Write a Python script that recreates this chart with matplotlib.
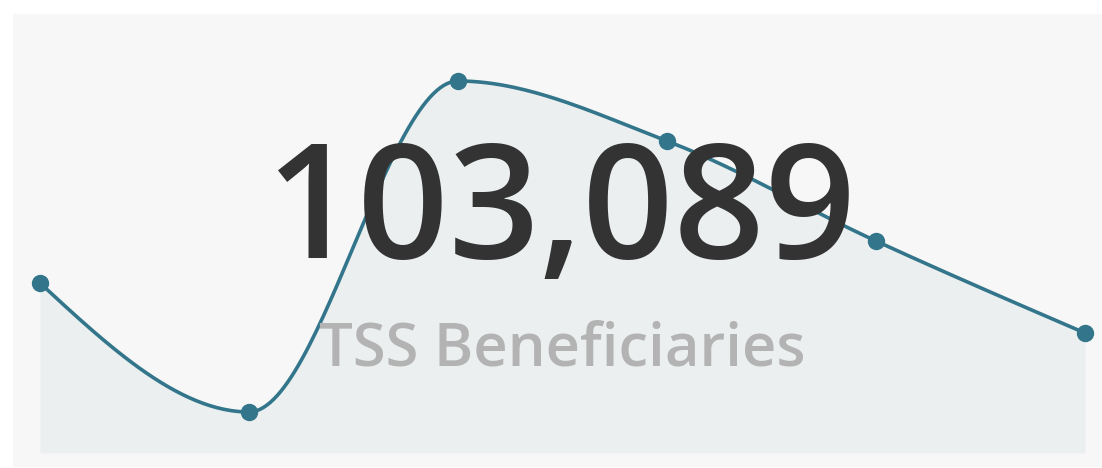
import numpy as np
import matplotlib
matplotlib.use("Agg")
import matplotlib.pyplot as plt
from matplotlib.patches import Rectangle

# data
periods = [0, 1, 2, 3, 4, 5]
values = [170, 41, 372, 312, 212, 120]
total_label = "103,089"
title = "TSS Beneficiaries"

LINE = "#33758a"
FILL = "#ebeff0"
PANEL = "#f7f7f7"


def monotone_x(x, y, n=60):
    # monotone cubic like d3.curveMonotoneX
    x = np.asarray(x, float)
    y = np.asarray(y, float)
    h = np.diff(x)
    s = np.diff(y) / h
    t = np.zeros(len(x))
    for i in range(1, len(x) - 1):
        p = (s[i - 1] * h[i] + s[i] * h[i - 1]) / (h[i - 1] + h[i])
        t[i] = (np.sign(s[i - 1]) + np.sign(s[i])) * min(abs(s[i - 1]), abs(s[i]), 0.5 * abs(p))
    t[0] = (3 * s[0] - t[1]) / 2
    t[-1] = (3 * s[-1] - t[-2]) / 2
    xs, ys = [], []
    for i in range(len(x) - 1):
        u = np.linspace(0, 1, n)
        h00 = 2 * u**3 - 3 * u**2 + 1
        h10 = u**3 - 2 * u**2 + u
        h01 = -2 * u**3 + 3 * u**2
        h11 = u**3 - u**2
        xs.append(x[i] + u * h[i])
        ys.append(h00 * y[i] + h10 * h[i] * t[i] + h01 * y[i + 1] + h11 * h[i] * t[i + 1])
    return np.concatenate(xs), np.concatenate(ys)


W, H = 1102, 468
fig = plt.figure(figsize=(W / 100, H / 100), dpi=100)
fig.patch.set_facecolor("white")

# grey card behind everything
bg = fig.add_axes([0, 0, 1, 1], zorder=-1)
bg.set_xlim(0, W)
bg.set_ylim(H, 0)
bg.axis("off")
bg.add_patch(Rectangle((13, 14), W - 13, 453, facecolor=PANEL, edgecolor="none"))

ax = fig.add_axes([40 / W, (H - 453) / H, (1085 - 40) / W, (453 - 14) / H], zorder=1)
ax.set_xlim(periods[0], periods[-1])
ax.set_ylim(0, 439)
ax.axis("off")

sx, sy = monotone_x(periods, values)
ax.fill_between(sx, 0, sy, color=FILL, lw=0, zorder=1)
ax.plot(sx, sy, color=LINE, lw=2.6, zorder=2, clip_on=False, solid_capstyle="round")
ax.plot(periods, values, "o", color=LINE, ms=11.5, zorder=3, clip_on=False)

fig.text(561 / W, 1 - 258 / H, total_label, ha="center", va="baseline",
         fontsize=115, color="#333333", family="Open Sans", fontweight="semibold", zorder=5)
fig.text(562 / W, 1 - 366 / H, title, ha="center", va="baseline",
         fontsize=43, color="#b3b3b3", family="Open Sans", fontweight="semibold", zorder=5)

fig.savefig("out.png", dpi=100, facecolor="white")
plt.close("all")
